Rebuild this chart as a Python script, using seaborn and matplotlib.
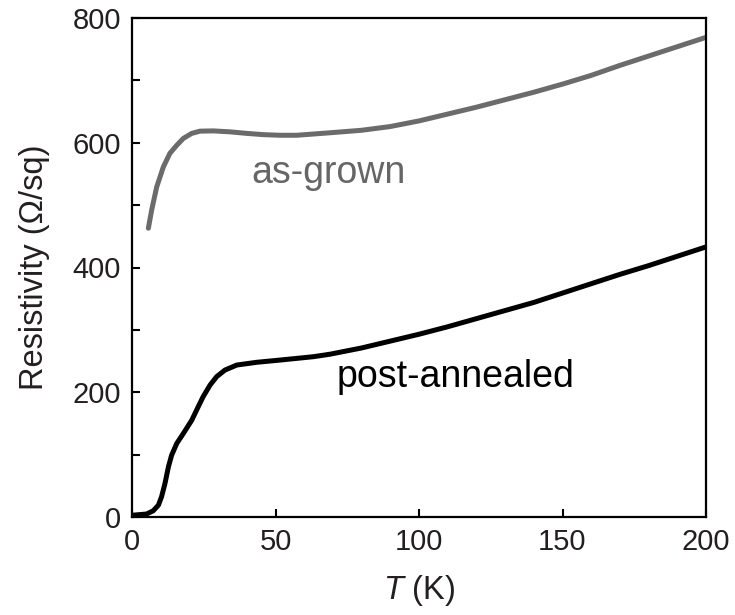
import matplotlib
matplotlib.use("Agg")
import matplotlib.pyplot as plt
from matplotlib.ticker import MultipleLocator
import seaborn as sns
import pandas as pd

# Data
T_asgrown = [5.7, 6.85, 8.6, 10.9, 13.2, 15.6, 17.9, 20.8, 23.7, 28.3, 34.1, 40, 45.7, 51.6, 57.4,
             69, 80, 90, 100, 110, 120, 130, 140, 150, 160, 170, 180, 190, 200]
R_asgrown = [463, 492, 529, 561, 583, 596, 607, 615, 618.6, 619, 617.5, 615, 613, 612, 612,
             616, 620, 626, 635, 646, 657, 669, 681, 694, 708, 724, 739, 754, 769]

T_annealed = [0.5, 5.1, 7.4, 9.2, 10.3, 11.5, 12.7, 13.8, 15.6, 17.9, 20.8, 23.1, 24.8, 27.2,
              29.5, 32.4, 36.5, 43.4, 51.6, 63.2, 69, 80, 90, 100, 110, 120, 130, 140, 150,
              160, 170, 180, 190, 200]
R_annealed = [3, 4.8, 10, 19, 32.5, 54, 80.6, 99, 118, 134, 155, 177, 193, 211.5,
              225, 235.6, 243.6, 248, 251.6, 257, 261, 271, 282, 293, 305, 318, 331, 344, 359,
              374, 389, 403, 418, 433]

labels = ["as-grown", "post-annealed"]
xticks = [0, 50, 100, 150, 200]
yticks = [0, 200, 400, 600, 800]

sns.set_theme(style="ticks")
plt.rcParams['font.family'] = ['Liberation Sans', 'DejaVu Sans']
plt.rcParams['mathtext.fontset'] = 'custom'
plt.rcParams['mathtext.it'] = 'Liberation Sans:italic'
plt.rcParams['mathtext.rm'] = 'Liberation Sans'
txt_color = "#231f20"

df_a = pd.DataFrame({"T": T_asgrown, "R": R_asgrown})
df_b = pd.DataFrame({"T": T_annealed, "R": R_annealed})

fig = plt.figure(figsize=(7.35, 6.15), dpi=100)
ax = fig.add_axes([132/735, 1 - 517/615, (706-132)/735, (517-18)/615])

sns.lineplot(data=df_a, x="T", y="R", ax=ax, color="#6b6b6b", lw=3.6,
             estimator=None, sort=False, solid_capstyle="round", solid_joinstyle="round")
sns.lineplot(data=df_b, x="T", y="R", ax=ax, color="black", lw=3.6,
             estimator=None, sort=False, solid_capstyle="round", solid_joinstyle="round")

ax.set_xlim(0, 200)
ax.set_ylim(0, 800)
ax.set_xticks(xticks)
ax.set_yticks(yticks)
ax.yaxis.set_minor_locator(MultipleLocator(100))

for s in ax.spines.values():
    s.set_linewidth(1.6)
    s.set_color("black")

ax.tick_params(axis="both", which="both", direction="in", top=False, right=False,
               width=1.5, length=6, colors="black", labelcolor=txt_color, labelsize=21)
ax.tick_params(axis="x", pad=8)
ax.tick_params(axis="y", pad=8)

ax.set_xlabel(r"$\mathit{T}$ (K)", fontsize=23.5, color=txt_color, labelpad=12)
ax.set_ylabel("Resistivity (Ω/sq)", fontsize=23.5, color=txt_color, labelpad=16)

ax.text(68.3, 534.8, labels[0], ha="center", va="baseline", fontsize=27, color="#666666")
ax.text(112.9, 208.8, labels[1], ha="center", va="baseline", fontsize=27, color="black")

fig.savefig("out.png", dpi=100)
